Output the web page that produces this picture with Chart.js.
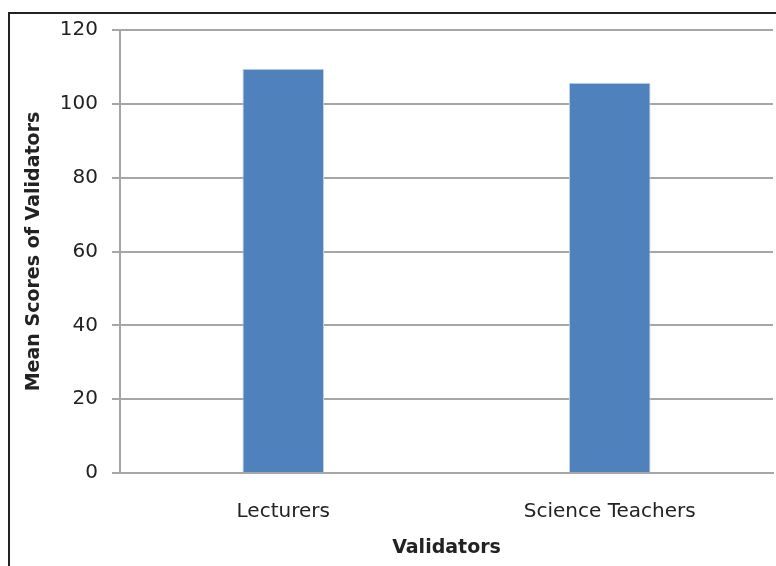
<!DOCTYPE html>
<html lang="en">
<head>
<meta charset="UTF-8">
<title>Mean Scores of Validators</title>
<script src="https://cdn.jsdelivr.net/npm/chart.js"></script>
<style>
    html, body { margin: 0; padding: 0; background: #fff; overflow: hidden; }
    #wrap { position: relative; width: 776px; height: 566px; }
    #frame { position: absolute; left: 8px; top: 12px; width: 800px; height: 600px; border-left: 2px solid #222; border-top: 2px solid #222; }
    canvas { position: absolute; left: 0; top: 0; }
</style>
</head>
<body>
<div id="wrap">
    <div id="frame"></div>
    <canvas id="chart" width="776" height="566"></canvas>
</div>
<script>
    const categories = ['Lecturers', 'Science Teachers'];
    const meanScores = [109.5, 105.7];
    const yTicks = [0, 20, 40, 60, 80, 100, 120];

    const tickFont = { family: 'DejaVu Sans', size: 20 };
    const titleFont = { family: 'DejaVu Sans', size: 19, weight: 'bold' };
    const gridColor = '#a6a6a6';

    const ctx = document.getElementById('chart').getContext('2d');
    new Chart(ctx, {
        type: 'bar',
        data: {
            labels: categories,
            datasets: [{
                label: 'Mean Scores',
                data: meanScores,
                backgroundColor: '#4f81bd',
                borderColor: '#c6d6ea',
                borderWidth: 1,
                barPercentage: 0.5,
                categoryPercentage: 0.5
            }]
        },
        options: {
            responsive: false,
            animation: false,
            layout: { padding: { left: 0, top: 30, right: 3, bottom: 0 } },
            plugins: { legend: { display: false }, tooltip: { enabled: false } },
            scales: {
                x: {
                    grid: { display: false },
                    border: { display: true, color: gridColor, width: 2 },
                    ticks: { color: '#222', font: tickFont, padding: 19 },
                    title: {
                        display: true, text: 'Validators', color: '#222',
                        font: titleFont,
                        padding: { top: 0, bottom: 7 }
                    },
                    afterFit: s => { s.height = 93; }
                },
                y: {
                    min: 0, max: 120,
                    afterBuildTicks: s => { s.ticks = yTicks.map(v => ({ value: v })); },
                    grid: { color: gridColor, lineWidth: 2, tickLength: 8 },
                    border: { display: true, color: gridColor, width: 2 },
                    ticks: { color: '#222', font: tickFont, padding: 14 },
                    title: {
                        display: true, text: 'Mean Scores of Validators', color: '#222',
                        font: titleFont,
                        padding: { top: 23, bottom: 0 }
                    },
                    afterFit: s => { s.width = 120; }
                }
            }
        }
    });
</script>
</body>
</html>
